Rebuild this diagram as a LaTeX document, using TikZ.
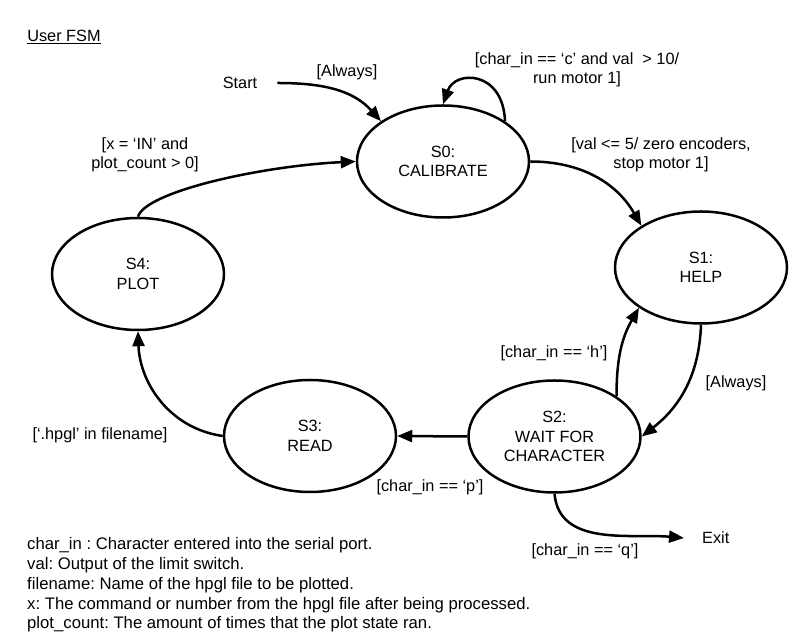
\documentclass[tikz,border=0pt]{standalone}
\usepackage{fontspec}
\setmainfont{Liberation Sans}
\usetikzlibrary{arrows.meta,shapes.geometric}
\begin{document}
\frenchspacing
\begin{tikzpicture}[x=1pt,y=1pt,
  state/.style={ellipse, draw, line width=2.5pt, minimum width=172pt, minimum height=112pt,
    inner sep=0pt, align=center, font=\fontsize{16.3}{19.5}\selectfont},
  lbl/.style={align=center, inner sep=0pt, font=\fontsize{16.3}{19.5}\selectfont},
  trans/.style={line width=2.5pt, -{Triangle[length=15pt,width=12pt]}},
]
\useasboundingbox (0,0) rectangle (800,644);

% title
\node[lbl] (title) at (64,607) {\underline{User FSM}};

% states
\node[state] (S0) at (443,482.5) {S0:\\CALIBRATE};
\node[state] (S1) at (701,376.5) {S1:\\HELP};
\node[state] (S2) at (554.5,207.5) {S2:\\WAIT FOR\\CHARACTER};
\node[state] (S3) at (310,208) {S3:\\READ};
\node[state] (S4) at (138,370) {S4:\\PLOT};

% start / exit
\node[lbl, inner xsep=20pt] (start) at (240,561) {Start};
\node[lbl, anchor=west, inner xsep=18pt] (exit) at (684,106) {Exit};

% transitions
\draw[trans] (start.east) to[out=0, in=132] (S0.147);
\draw[trans] (S0.33) .. controls (503,574) and (455,574) .. (S0.90);
\draw[trans] (S0.east) to[out=0, in=120] (S1.145);
\draw[trans] (S1.south) to[out=-92, in=38] (S2.east);
\draw[trans] (S2.33) to[out=90, in=240] (S1.213);
\draw[trans] (S2.west) -- (S3.east);
\draw[trans] (S3.west) to[out=172, in=-88] (S4.south);
\draw[trans] (S4.north) .. controls (145,452) and (260,478) .. (S0.west);
\draw[trans] (S2.south) to[out=-85, in=175] (exit.west);

% labels
\node[lbl] (lalw1) at (347,572) {[Always]};
\node[lbl] (lc) at (577,574) {[char\_in == ‘c’ and val\ \ > 10/\\run motor 1]};
\node[lbl] (lval) at (661,489) {[val <= 5/ zero encoders,\\stop motor 1]};
\node[lbl] (lin) at (145,489) {[x = ‘IN’ and\\plot\_count > 0]};
\node[lbl] (lh) at (554,291) {[char\_in == ‘h’]};
\node[lbl] (lalw2) at (736,261) {[Always]};
\node[lbl] (lhpgl) at (100,209) {[‘.hpgl’ in filename]};
\node[lbl] (lp) at (430,157) {[char\_in == ‘p’]};
\node[lbl] (lq) at (585,93) {[char\_in == ‘q’]};

% legend
\node[anchor=west, align=left, inner sep=0pt, font=\fontsize{16.7}{19.8}\selectfont\frenchspacing] (legend) at (27,59)
{char\_in : Character entered into the serial port.\\
val: Output of the limit switch.\\
filename: Name of the hpgl file to be plotted.\\
x: The command or number from the hpgl file after being processed.\\
plot\_count: The amount of times that the plot state ran.};
\end{tikzpicture}
\end{document}
